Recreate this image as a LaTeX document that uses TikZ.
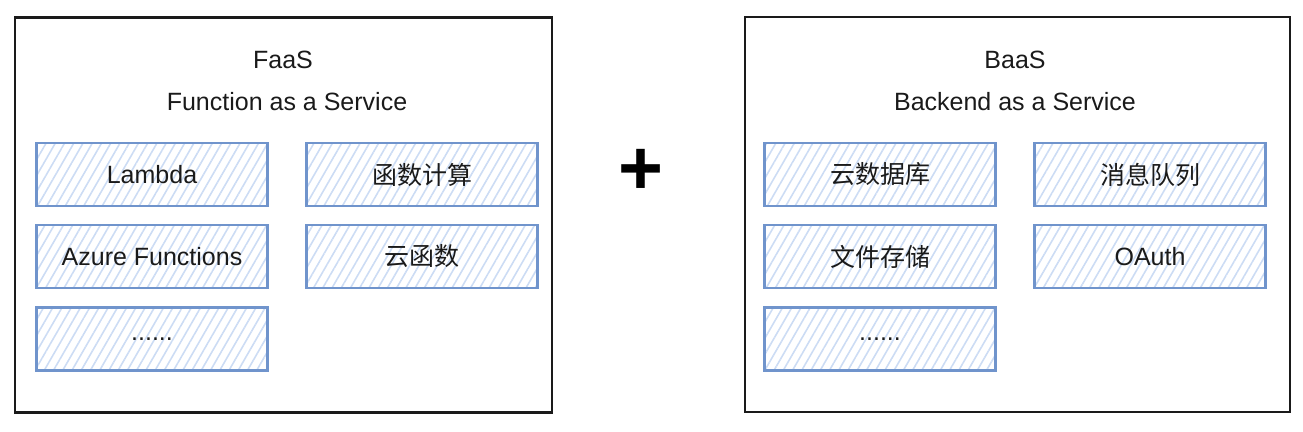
\documentclass[tikz,border=0pt]{standalone}
\usepackage{fontspec}
\setmainfont{Liberation Sans}
\newfontfamily\cjk{Noto Sans CJK SC}
\usetikzlibrary{patterns.meta}
\definecolor{boxline}{HTML}{7094CC}
\definecolor{hatch}{HTML}{CCDCF4}
\definecolor{ink}{HTML}{1A1A1A}
\begin{document}
\begin{tikzpicture}[x=1pt,y=-1pt,
    panel/.style={draw=ink,line width=2.4pt,minimum height=395pt,inner sep=0pt},
    item/.style={draw=boxline,line width=2.2pt,minimum width=231pt,minimum height=63pt,inner sep=0pt,
      pattern={Lines[angle=60,distance=8pt,line width=1.6pt]},pattern color=hatch,
      text=ink,font=\fontsize{25}{29}\selectfont},
    title/.style={text=ink,font=\fontsize{25}{29}\selectfont}]
  \useasboundingbox (0,0) rectangle (1303,431);
  \node[panel,minimum width=537pt] (faas) at (283.5,215) {};
  \node[panel,minimum width=545pt] (baas) at (1017.5,214.5) {};
  \node[title] (faasname) at (283,60) {FaaS};
  \node[title] (faaslong) at (287,102) {Function as a Service};
  \node[title] (baasname) at (1015,60) {BaaS};
  \node[title] (baaslong) at (1015,102) {Backend as a Service};
  \node[item] (lambda) at (152,174.5) {Lambda};
  \node[item] (fc) at (422,174.5) {\cjk 函数计算};
  \node[item] (azure) at (152,256.5) {Azure Functions};
  \node[item] (scf) at (422,256.5) {\cjk 云函数};
  \node[item] (faasmore) at (152,339) {......};
  \node[item] (clouddb) at (880,174.5) {\cjk 云数据库};
  \node[item] (mq) at (1150,174.5) {\cjk 消息队列};
  \node[item] (storage) at (880,256.5) {\cjk 文件存储};
  \node[item] (oauth) at (1150,256.5) {OAuth};
  \node[item] (baasmore) at (880,339) {......};
  \node[text=black,font=\fontsize{77}{77}\selectfont\bfseries] (plus) at (641,172) {+};
\end{tikzpicture}
\end{document}
